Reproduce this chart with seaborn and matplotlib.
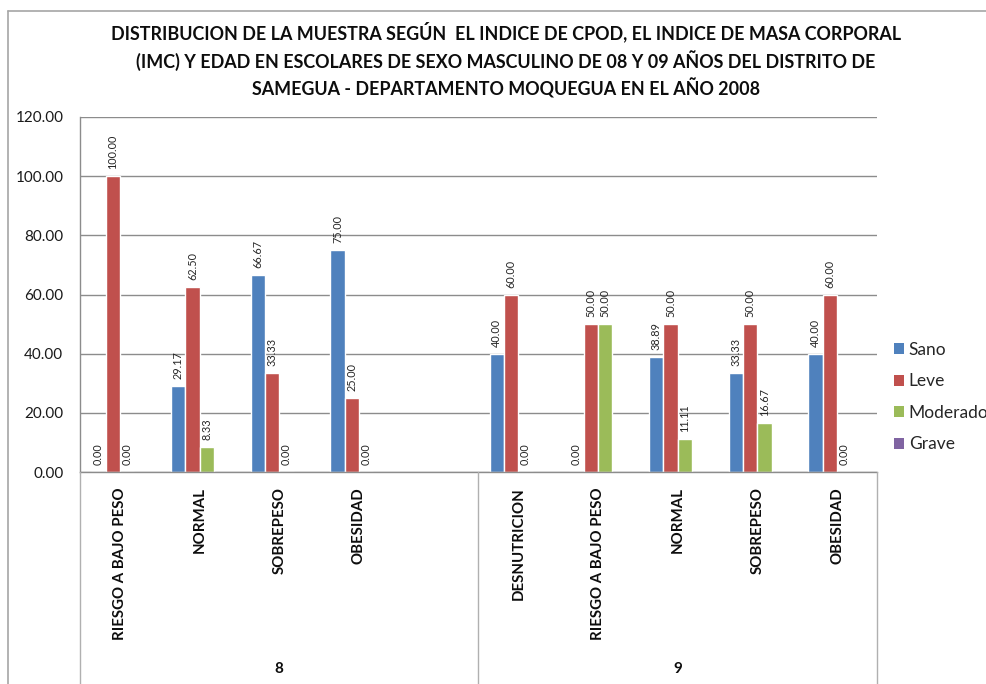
import numpy as np
import pandas as pd
import matplotlib
matplotlib.use("Agg")
import matplotlib.pyplot as plt
from matplotlib.lines import Line2D
from matplotlib.patches import Patch
from matplotlib.transforms import blended_transform_factory
import seaborn as sns

# ---- data -------------------------------------------------------------
edades = ["8", "8", "8", "8", "8", "9", "9", "9", "9", "9"]
imc = ["RIESGO A BAJO PESO", "NORMAL", "SOBREPESO", "OBESIDAD", "",
       "DESNUTRICION", "RIESGO A BAJO PESO", "NORMAL", "SOBREPESO", "OBESIDAD"]
series = ["Sano", "Leve", "Moderado", "Grave"]
sano = [0.00, 29.17, 66.67, 75.00, np.nan, 40.00, 0.00, 38.89, 33.33, 40.00]
leve = [100.00, 62.50, 33.33, 25.00, np.nan, 60.00, 50.00, 50.00, 50.00, 60.00]
moderado = [0.00, 8.33, 0.00, 0.00, np.nan, 0.00, 50.00, 11.11, 16.67, 0.00]
grave = [np.nan] * 10
y_ticks = [0, 20, 40, 60, 80, 100, 120]
title = ("DISTRIBUCION DE LA MUESTRA SEGÚN  EL INDICE DE CPOD, EL INDICE DE MASA CORPORAL\n"
         "(IMC) Y EDAD EN ESCOLARES DE SEXO MASCULINO DE 08 Y 09 AÑOS DEL DISTRITO DE\n"
         "SAMEGUA - DEPARTAMENTO MOQUEGUA EN EL AÑO 2008")
colors = {"Sano": "#4F81BD", "Leve": "#C0504D", "Moderado": "#9BBB59", "Grave": "#8064A2"}

# ---- long table -------------------------------------------------------
slots = [f"{e}-{i}" for i, e in enumerate(edades)]
rows = []
for name, vals in zip(series, [sano, leve, moderado, grave]):
    for s, v in zip(slots, vals):
        rows.append({"slot": s, "cpod": name, "valor": v})
df = pd.DataFrame(rows).dropna(subset=["valor"])

# ---- figure -----------------------------------------------------------
sns.set_theme(style="white")
plt.rcParams["font.family"] = ["Lato", "DejaVu Sans"]
W, H = 987, 684
fig = plt.figure(figsize=(W / 100, H / 100), dpi=100)
x0, x1, y_top, y_base = 80, 877, 117, 472
ax = fig.add_axes([x0 / W, 1 - y_base / H, (x1 - x0) / W, (y_base - y_top) / H])

sns.barplot(data=df, x="slot", y="valor", hue="cpod", order=slots,
            hue_order=series, palette=colors, width=0.72, errorbar=None,
            saturation=1, dodge=True, ax=ax, legend=False)

for cont in ax.containers:
    ax.bar_label(cont, fmt="%.2f", rotation=90, padding=5, fontsize=7.8,
                 color="#262626")

grid_c = "#8c8c8c"
ax.set_xlim(-0.5, len(slots) - 0.5)
ax.set_ylim(0, 120)
ax.set_yticks(y_ticks)
ax.set_yticklabels([f"{v:.2f}" for v in y_ticks], fontsize=11, color="#1a1a1a")
ax.yaxis.grid(True, color=grid_c, linewidth=1)
ax.set_axisbelow(True)
ax.tick_params(axis="y", length=0, pad=12)
ax.set_xticks(range(len(slots)))
ax.set_xticklabels(imc, rotation=90, fontweight="bold", fontsize=10.8, color="#0d0d0d")
ax.tick_params(axis="x", length=0, pad=11)
ax.set_xlabel("")
ax.set_ylabel("")
for sp in ["top", "right"]:
    ax.spines[sp].set_visible(False)
for sp in ["left", "bottom"]:
    ax.spines[sp].set_color(grid_c)
    ax.spines[sp].set_linewidth(1)

# group separators and age labels under the category axis
tr = blended_transform_factory(ax.transData, fig.transFigure)
for xs in [-0.5, 4.5, 9.5]:
    fig.add_artist(Line2D([xs, xs], [0, 1 - y_base / H], transform=tr,
                          color="#b0b0b0", linewidth=1))
for center, edad in [(2, "8"), (7, "9")]:
    ax.text(center, 1 - 669 / H, edad, transform=tr, ha="center", va="center",
            fontsize=11, fontweight="bold", color="#0d0d0d")

# chart frame
fig.add_artist(Line2D([8.5 / W, 1], [1 - 11 / H, 1 - 11 / H], transform=fig.transFigure,
                      color="#a6a6a6", linewidth=1.2))
fig.add_artist(Line2D([8.5 / W, 8.5 / W], [0, 1 - 11 / H], transform=fig.transFigure,
                      color="#a6a6a6", linewidth=1.2))

fig.text(506 / W, 1 - 60 / H, title, ha="center", va="center", fontsize=12.9,
         fontweight="bold", linespacing=1.45, color="#0d0d0d")

handles = [Patch(facecolor=colors[s], edgecolor="none", label=s) for s in series]
fig.legend(handles=handles, loc="center left", bbox_to_anchor=(894 / W, 1 - 397 / H),
           frameon=False, fontsize=12.5, handlelength=0.6, handleheight=0.6,
           handletextpad=0.25, labelspacing=0.9, borderaxespad=0, borderpad=0)

fig.savefig("out.png", dpi=100, facecolor="white")
